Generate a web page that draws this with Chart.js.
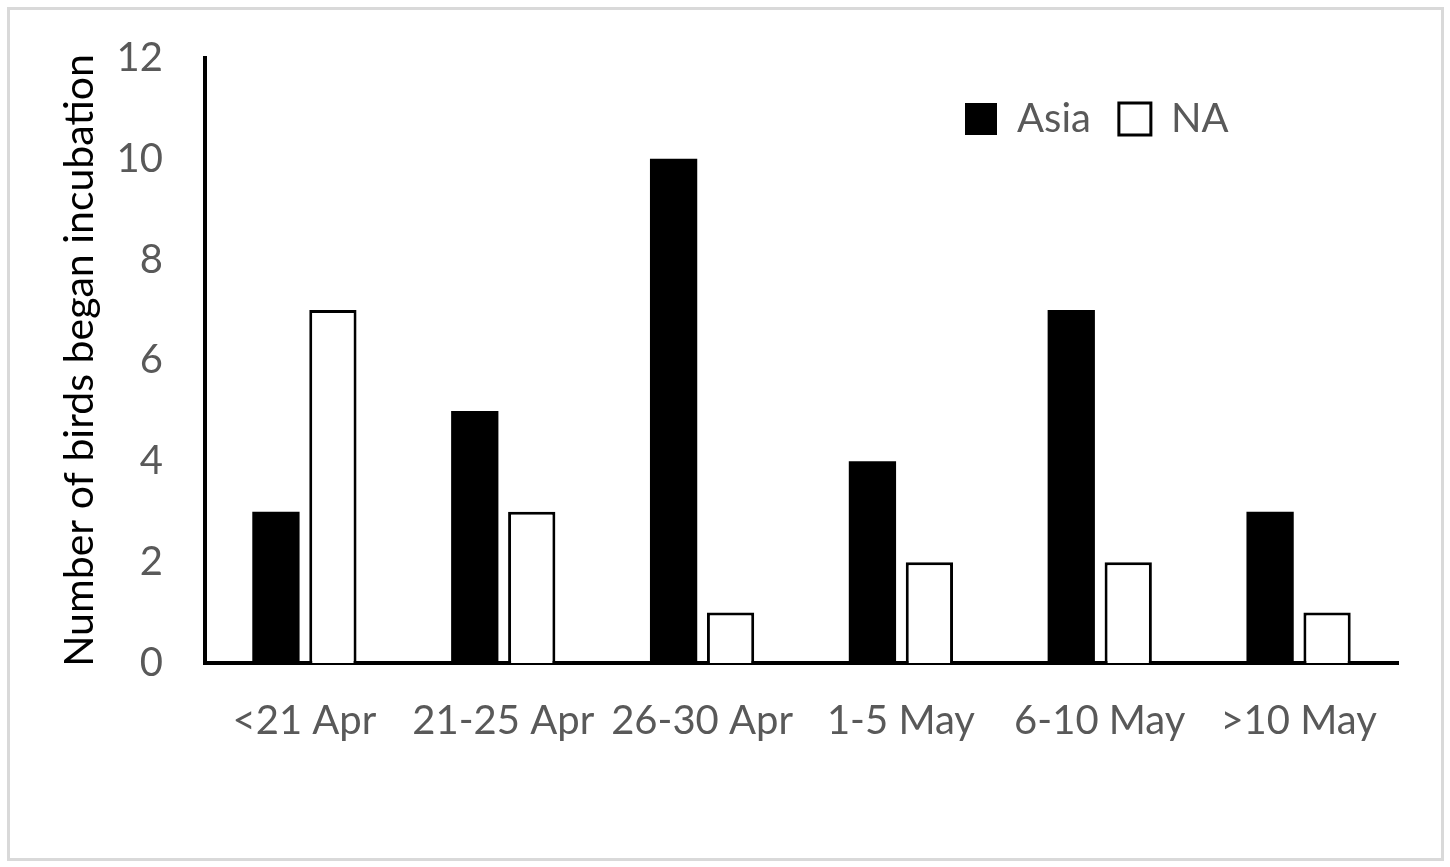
<!DOCTYPE html>
<html>
<head>
<meta charset="utf-8">
<script src="https://cdn.jsdelivr.net/npm/chart.js@4"></script>
<style>
  html, body { margin: 0; padding: 0; background: #fff; }
  #wrap { position: relative; width: 1450px; height: 867px; }
  #frame { position: absolute; left: 7px; top: 7px; width: 1437px; height: 854px;
           box-sizing: border-box; border: 3px solid #d9d9d9; pointer-events: none; }
  canvas { position: absolute; left: 0; top: 0; }
</style>
</head>
<body>
<div id="wrap">
  <canvas id="chart" width="1450" height="867"></canvas>
  <div id="frame"></div>
</div>
<script>
const periods = ['<21 Apr', '21-25 Apr', '26-30 Apr', '1-5 May', '6-10 May', '>10 May'];
const asiaCounts = [3, 5, 10, 4, 7, 3];
const naCounts = [7, 3, 1, 2, 2, 1];
const yTicks = [0, 2, 4, 6, 8, 10, 12];

const greyText = '#595959';
const fontFamily = 'Lato, "Open Sans", sans-serif';

// legend sits inside the plot, top right, items in one row
const legendSpot = {
  id: 'legendSpot',
  beforeLayout(chart) {
    chart.legend.isHorizontal = () => true;
  },
  afterLayout(chart) {
    const l = chart.legend;
    const h = l.bottom - l.top;
    l.left = 937;
    l.right = 1400;
    l.width = l.right - l.left;
    l.top = 71;
    l.bottom = 71 + h;
  }
};

let ctx = document.getElementById('chart').getContext('2d');
new Chart(ctx, {
  type: 'bar',
  data: {
    labels: periods,
    datasets: [
      {
        label: 'Asia',
        data: asiaCounts,
        backgroundColor: '#000000',
        borderWidth: 0,
        categoryPercentage: 0.573,
        barPercentage: 0.83
      },
      {
        label: 'NA',
        data: naCounts,
        backgroundColor: '#ffffff',
        borderColor: '#000000',
        borderWidth: 3,
        categoryPercentage: 0.573,
        barPercentage: 0.83
      }
    ]
  },
  options: {
    responsive: false,
    animation: false,
    layout: { padding: { left: 55, right: 52, top: 58, bottom: 0 } },
    plugins: {
      legend: {
        position: 'chartArea',
        align: 'start',
        labels: {
          color: greyText,
          font: { family: fontFamily, size: 40 },
          boxWidth: 32,
          boxHeight: 32,
          padding: 28
        }
      },
      tooltip: { enabled: false }
    },
    scales: {
      x: {
        grid: { display: false, drawTicks: false },
        border: { display: true, color: '#000000', width: 4 },
        ticks: {
          color: greyText,
          font: { family: fontFamily, size: 40 },
          padding: 34,
          maxRotation: 0,
          autoSkip: false
        },
        afterFit: (s) => { s.height = 204; }
      },
      y: {
        min: 0,
        max: 12,
        grid: { display: false, drawTicks: false },
        border: { display: true, color: '#000000', width: 4 },
        afterBuildTicks: (s) => { s.ticks = yTicks.map(v => ({ value: v })); },
        ticks: {
          color: greyText,
          font: { family: fontFamily, size: 40 },
          padding: 42
        },
        title: {
          display: true,
          text: 'Number of birds began incubation',
          color: '#000000',
          font: { family: fontFamily, size: 41 },
          padding: { top: 0, bottom: 0 }
        },
        afterFit: (s) => {
          s.width = 150;
          s.paddingTop = 0;
          s.paddingBottom = 0;
        }
      }
    }
  },
  plugins: [legendSpot]
});
</script>
</body>
</html>
